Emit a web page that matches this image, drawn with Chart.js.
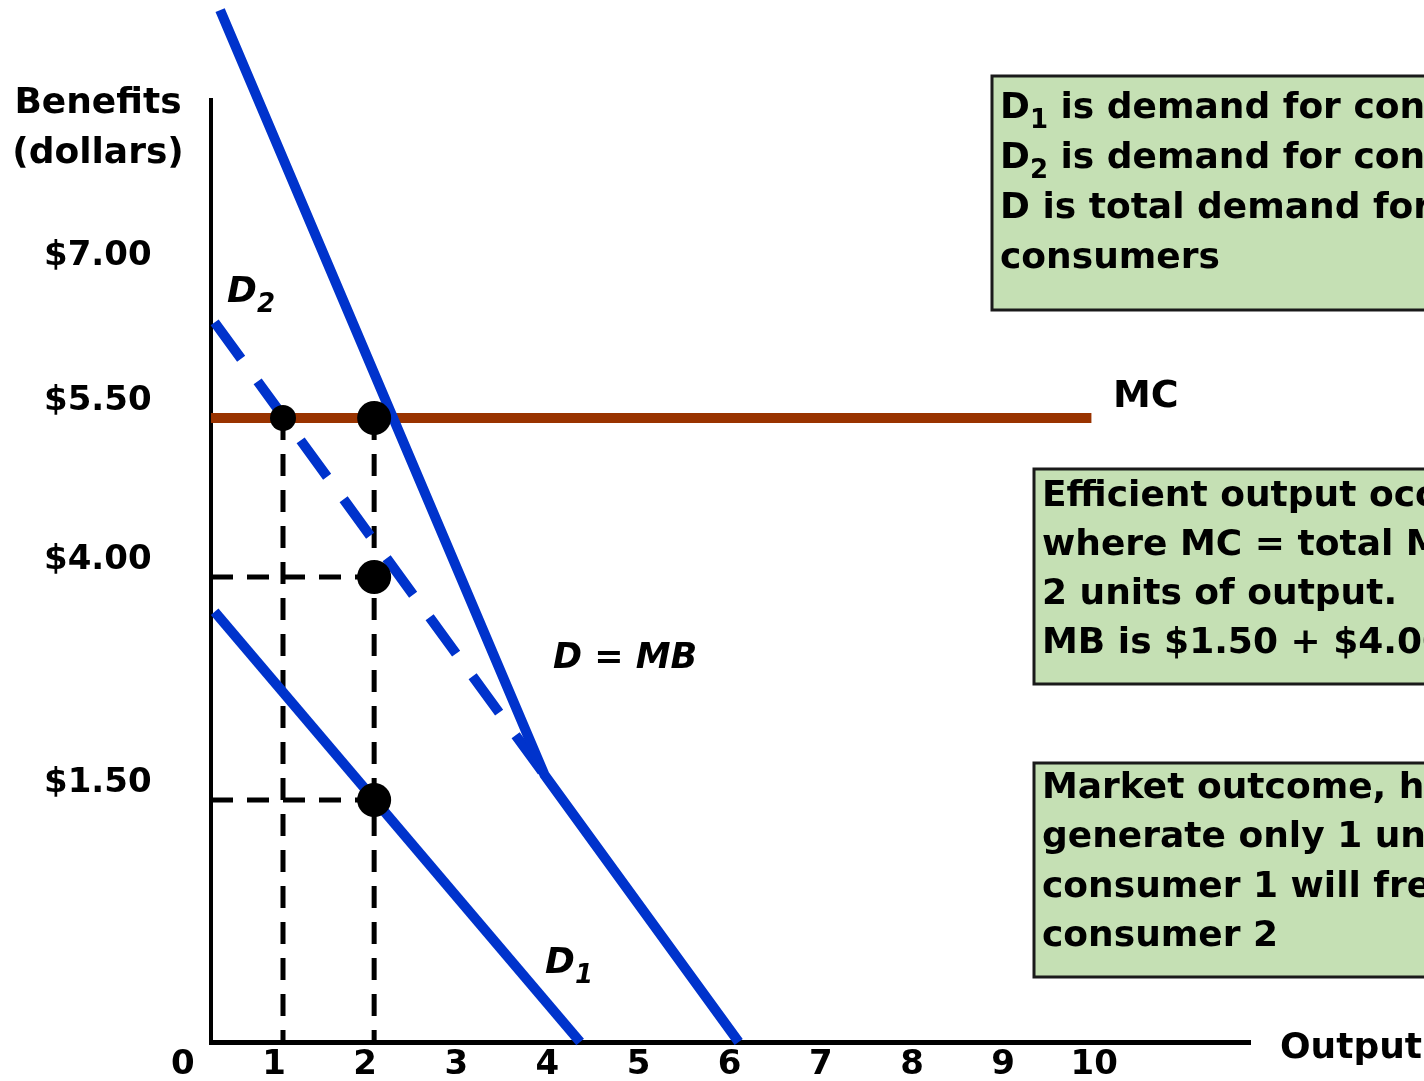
<!DOCTYPE html>
<html><head><meta charset="utf-8">
<script src="https://cdn.jsdelivr.net/npm/chart.js@4/dist/chart.umd.min.js"></script>
<style>html,body{margin:0;padding:0;background:#fff;overflow:hidden}canvas{display:block}</style>
</head><body>
<canvas id="c" width="1424" height="1081"></canvas>
<script>
// ---------- data (output units, dollars) ----------
const xTickValues = [0, 1, 2, 3, 4, 5, 6, 7, 8, 9, 10];
const yTickValues = [1.5, 4, 5.5, 7];

const totalDemandX = [0.31, 3.87, 6.0];   // D = MB (kinked)
const totalDemandY = [9.72, 1.78, 0];
const demand1X = [0.25, 4.26];            // D1
const demand1Y = [3.61, 0];
const demand2X = [0.25, 3.87];            // D2 (dashed)
const demand2Y = [6.49, 1.78];
const mcX = [0.21, 9.87];                 // MC
const mcY = [5.5, 5.5];

const pointX = [1, 2, 2, 2];              // marked points
const pointY = [5.5, 5.5, 4, 1.5];

const guideOutputs = [1, 2];              // vertical dashed guides (from MC down)
const guidePrices = [4, 1.5];             // horizontal dashed guides (to output 2)
const guidePriceOutput = 2;
const axisX = 0.21;

// ---------- piecewise y scale (the reference axis is not drawn to scale) ----------
class PiecewiseScale extends Chart.LinearScale {
  _toDecimal(v) {
    const k = this.options.knots;
    let i = 1;
    while (i < k.length - 1 && v > k[i][0]) i++;
    const a = k[i - 1], b = k[i];
    return a[1] + (v - a[0]) * (b[1] - a[1]) / (b[0] - a[0]);
  }
  getPixelForValue(value) { return this.getPixelForDecimal(this._toDecimal(value)); }
  getValueForPixel(pixel) {
    const d = this.getDecimalForPixel(pixel);
    const k = this.options.knots;
    let i = 1;
    while (i < k.length - 1 && d > k[i][1]) i++;
    const a = k[i - 1], b = k[i];
    return a[0] + (d - a[1]) * (b[0] - a[0]) / (b[1] - a[1]);
  }
}
PiecewiseScale.id = 'piecewise';
Chart.register(PiecewiseScale);

const pts = (xs, ys) => xs.map((x, i) => ({ x, y: ys[i] }));
const BLUE = '#0033cc';
const FONT = 'DejaVu Sans';

const guideSets = [];
guideOutputs.forEach(q => guideSets.push(pts([q, q], [mcY[0], 0])));
guidePrices.forEach(p => guideSets.push(pts([axisX, guidePriceOutput], [p, p])));

const datasets = [
  { data: pts(pointX, pointY), showLine: false, pointRadius: [13, 17, 17, 17],
    pointBackgroundColor: '#000', pointBorderWidth: 0, clip: false },
  { data: pts(totalDemandX, totalDemandY), borderColor: BLUE, borderWidth: 10, pointRadius: 0, clip: false, borderJoinStyle: 'miter' },
  { data: pts(demand1X, demand1Y), borderColor: BLUE, borderWidth: 10, pointRadius: 0, clip: false },
  { data: pts(demand2X, demand2Y), borderColor: BLUE, borderWidth: 10, pointRadius: 0, clip: false, borderDash: [45, 28] },
  { data: pts(mcX, mcY), borderColor: '#993300', borderWidth: 10, pointRadius: 0, clip: false },
  ...guideSets.map(d => ({ data: d, borderColor: '#000', borderWidth: 5, pointRadius: 0, clip: false, borderDash: [22, 14] }))
];
datasets.forEach(d => { d.tension = 0; d.borderCapStyle = 'butt'; d.fill = false; });

// ---------- annotation text ----------
function drawRich(ctx, segs, x, y, size, style) {
  let cx = x;
  segs.forEach(s => {
    const sub = !!s.sub;
    const sz = sub ? Math.round(size * 0.72) : size;
    ctx.font = `${style} bold ${sz}px "${FONT}"`;
    ctx.fillText(s.t, cx, sub ? y + size * 0.28 : y);
    cx += ctx.measureText(s.t).width;
  });
}
const box1 = [
  [{ t: 'D' }, { t: '1', sub: 1 }, { t: ' is demand for consumer 1' }],
  [{ t: 'D' }, { t: '2', sub: 1 }, { t: ' is demand for consumer 2' }],
  [{ t: 'D is total demand for both' }],
  [{ t: 'consumers' }]
];
const box2 = ['Efficient output occurs', 'where MC = total MB at', '2 units of output.', 'MB is $1.50 + $4.00 = $5.50'];
const box3 = ['Market outcome, however, may', 'generate only 1 unit because', 'consumer 1 will free ride on', 'consumer 2'];

const annot = {
  id: 'annot',
  afterDraw(chart) {
    const ctx = chart.ctx;
    ctx.save();
    ctx.textBaseline = 'alphabetic';
    ctx.textAlign = 'left';
    const box = (x, y, w, h) => {
      ctx.fillStyle = '#c5e0b4';
      ctx.fillRect(x, y, w, h);
      ctx.lineWidth = 3; ctx.strokeStyle = '#1a1a1a';
      ctx.strokeRect(x, y, w, h);
    };
    box(992, 76, 500, 234);
    box(1034, 469, 500, 215);
    box(1034, 763, 500, 214);
    ctx.fillStyle = '#000';
    box1.forEach((l, i) => drawRich(ctx, l, 1000, 118 + i * 50, 36, 'normal'));
    box2.forEach((l, i) => drawRich(ctx, [{ t: l }], 1042, 506 + i * 49, 36, 'normal'));
    box3.forEach((l, i) => drawRich(ctx, [{ t: l }], 1042, 798 + i * 49.3, 36, 'normal'));

    // axis titles and curve labels
    ctx.font = `bold 36px "${FONT}"`;
    ctx.textAlign = 'center';
    ctx.fillText('Benefits', 98, 113);
    ctx.fillText('(dollars)', 98, 163);
    ctx.textAlign = 'left';
    ctx.fillText('Output', 1280, 1058);
    ctx.font = `bold 38px "${FONT}"`;
    ctx.fillText('MC', 1113, 407);
    drawRich(ctx, [{ t: 'D' }, { t: '2', sub: 1 }], 227, 302, 36, 'italic');
    drawRich(ctx, [{ t: 'D = MB' }], 553, 668, 35, 'italic');
    drawRich(ctx, [{ t: 'D' }, { t: '1', sub: 1 }], 545, 973, 36, 'italic');
    ctx.restore();
  }
};

const tickFont = { family: FONT, weight: 'bold', size: 34 };
new Chart(document.getElementById('c'), {
  type: 'line',
  data: { datasets },
  plugins: [annot],
  options: {
    responsive: false,
    animation: false,
    layout: { padding: { left: 44, right: 174, top: 100, bottom: 0 } },
    plugins: { legend: { display: false }, tooltip: { enabled: false } },
    scales: {
      x: {
        type: 'linear', min: axisX, max: 11.61, bounds: 'data',
        grid: { display: false, drawTicks: false },
        border: { display: true, color: '#000', width: 5 },
        ticks: { autoSkip: false, maxRotation: 0, padding: 3, labelOffset: -9, color: '#000', font: tickFont,
                 callback: v => String(v) },
        afterBuildTicks: s => { s.ticks = xTickValues.map(v => ({ value: v })); },
        afterFit: s => { s.height = 39; }
      },
      y: {
        type: 'piecewise', min: 0, max: 8.78, bounds: 'data',
        knots: [[0, 0], [1.5, 0.2569], [4, 0.4936], [5.5, 0.6624], [7, 0.8163], [10, 1.1241]],
        grid: { display: false, drawTicks: false },
        border: { display: true, color: '#000', width: 4 },
        ticks: { autoSkip: false, padding: 0, crossAlign: 'far', labelOffset: -17, color: '#000', font: tickFont,
                 callback: v => '$' + Number(v).toFixed(2) },
        afterBuildTicks: s => { s.ticks = yTickValues.map(v => ({ value: v })); },
        afterFit: s => { s.width = 167; }
      }
    }
  }
});
</script>
</body></html>
